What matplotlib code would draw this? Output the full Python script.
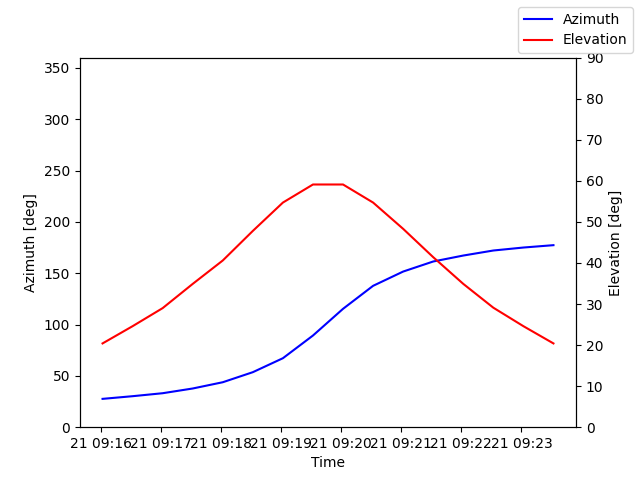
import numpy as np
import matplotlib
matplotlib.use("Agg")
import matplotlib.pyplot as plt

times = ['2024-03-21T09:16:02', '2024-03-21T09:16:32', '2024-03-21T09:17:02',
         '2024-03-21T09:17:32', '2024-03-21T09:18:02', '2024-03-21T09:18:32',
         '2024-03-21T09:19:02', '2024-03-21T09:19:32', '2024-03-21T09:20:02',
         '2024-03-21T09:20:32', '2024-03-21T09:21:02', '2024-03-21T09:21:32',
         '2024-03-21T09:22:02', '2024-03-21T09:22:32', '2024-03-21T09:23:02',
         '2024-03-21T09:23:32']
azimuth = [27.6, 30.2, 33.1, 37.7, 43.8, 53.6, 67.2, 89.3,
           115.3, 137.7, 151.6, 161.4, 167.2, 172.1, 175.0, 177.3]
elevation = [20.4, 24.6, 29.0, 34.9, 40.6, 47.8, 54.7, 59.1,
             59.1, 54.7, 48.3, 41.4, 34.9, 29.1, 24.6, 20.4]

t = np.array(times, dtype='datetime64[s]')

fig, ax1 = plt.subplots()
ax1.plot(t, azimuth, color='b', label='Azimuth')
ax1.set_ylim(0, 360)
ax1.set_xlabel('Time')
ax1.set_ylabel('Azimuth [deg]')

ax2 = ax1.twinx()
ax2.plot(t, elevation, color='r', label='Elevation')
ax2.set_ylim(0, 90)
ax2.set_ylabel('Elevation [deg]')

fig.legend()
fig.savefig('out.png')
